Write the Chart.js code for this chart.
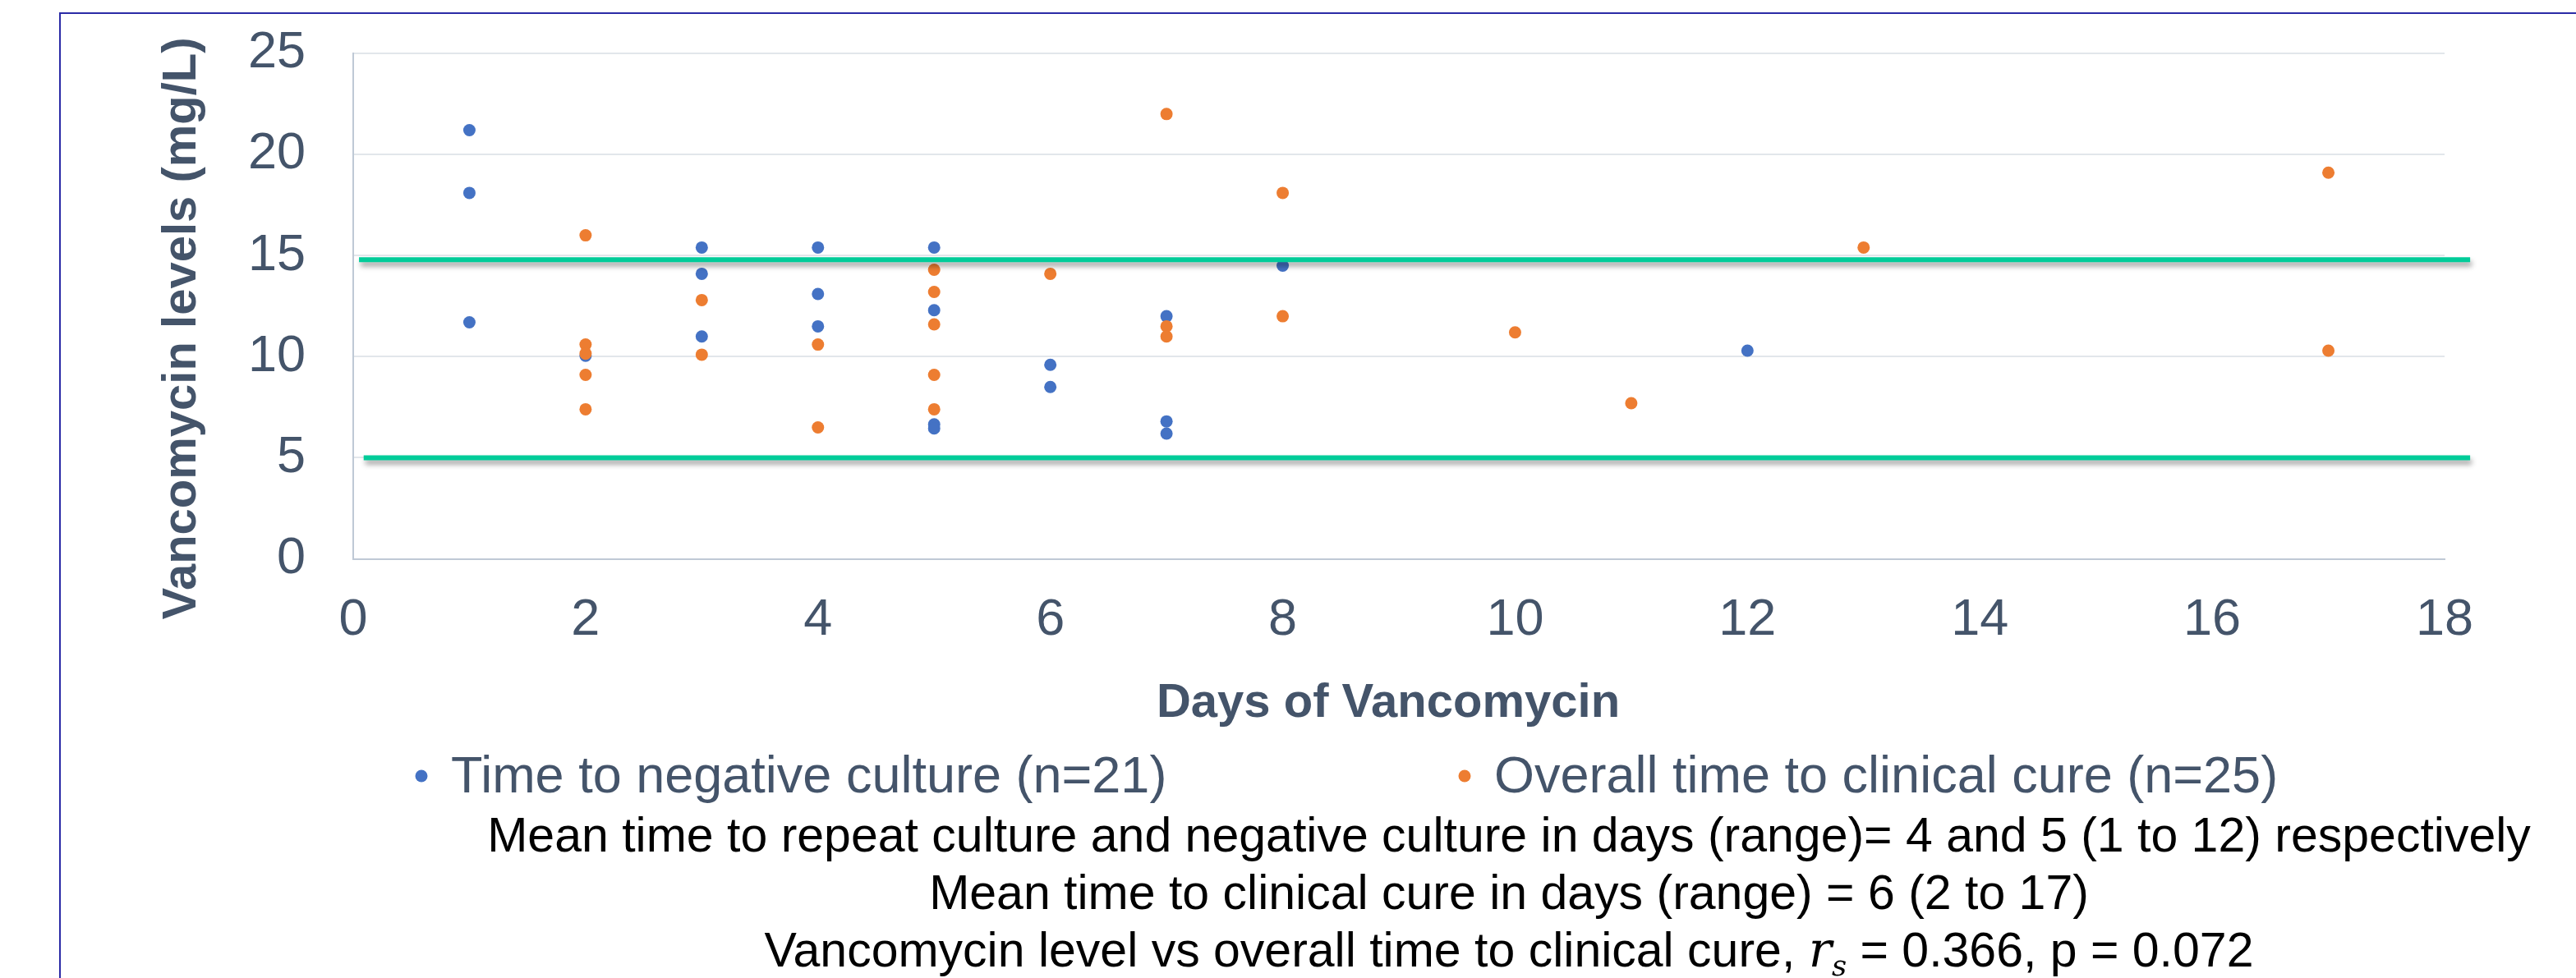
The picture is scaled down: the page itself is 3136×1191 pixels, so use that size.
<!DOCTYPE html>
<html><head><meta charset="utf-8">
<script src="https://cdn.jsdelivr.net/npm/chart.js@4.4.1/dist/chart.umd.min.js"></script>
<style>
html,body{margin:0;padding:0;width:3136px;height:1191px;overflow:hidden;background:#fff;}
#wrap{position:relative;width:3136px;height:1191px;}
canvas{position:absolute;left:0;top:0;}
#frame{position:absolute;left:72px;top:15px;width:3200px;height:1300px;border-left:2px solid #2B2BA6;border-top:2px solid #2B2BA6;pointer-events:none;}
#notes{position:absolute;left:1837px;top:982px;transform:translateX(-50%);font-family:'Liberation Sans',Arial,sans-serif;font-size:59px;line-height:70px;color:#000;text-align:center;white-space:nowrap;}
.rs{font-family:'DejaVu Serif','Liberation Serif',serif;font-style:italic;}
sub{font-size:0.6em;line-height:0;vertical-align:-0.3em;font-family:'DejaVu Serif','Liberation Serif',serif;font-style:italic;}
</style></head>
<body>
<div id="wrap">
<canvas id="c" width="3136" height="1191"></canvas>
<div id="frame"></div>
<div id="notes">
<div>Mean time to repeat culture and negative culture in days (range)= 4 and 5 (1 to 12) respectively</div>
<div>Mean time to clinical cure in days (range) = 6 (2 to 17)</div>
<div>Vancomycin level vs overall time to clinical cure, <span class="rs">r</span><sub>s</sub> = 0.366, p = 0.072</div>
</div>
</div>
<script>
// ---- data ----
const seriesNames = ['Time to negative culture (n=21)', 'Overall time to clinical cure (n=25)'];
const blueDays   = [1, 1, 1, 2, 3, 3, 3, 4, 4, 4, 5, 5, 5, 5, 6, 6, 7, 7, 7, 8, 12];
const blueLevels = [21.2, 18.1, 11.7, 10.05, 15.4, 14.1, 11.0, 15.4, 13.1, 11.5, 15.4, 12.3, 6.65, 6.45, 9.6, 8.5, 12.0, 6.8, 6.2, 14.5, 10.3];
const orangeDays   = [2, 2, 2, 2, 2, 3, 3, 4, 4, 5, 5, 5, 5, 5, 6, 7, 7, 7, 8, 8, 10, 11, 13, 17, 17];
const orangeLevels = [16.0, 10.6, 10.15, 9.1, 7.4, 12.8, 10.1, 10.6, 6.5, 14.3, 13.2, 11.6, 9.1, 7.4, 14.1, 22.0, 11.5, 11.0, 18.1, 12.0, 11.2, 7.7, 15.4, 19.1, 10.3];
const upperLineDays = [0.05, 18.22];
const upperLineLevel = 14.8;
const lowerLineDays = [0.09, 18.22];
const lowerLineLevel = 5.0;
const xTicksMax = 18, xStep = 2;
const yTicksMax = 25, yStep = 5;
const xTitle = 'Days of Vancomycin';
const yTitle = 'Vancomycin levels (mg/L)';

const toPts = (xs, ys) => xs.map((x, i) => ({x: x, y: Array.isArray(ys) ? ys[i] : ys}));

const FONT = "'Liberation Sans', Arial, sans-serif";
const AXIS_COLOR = '#44546A';

const shadowPlugin = {
  id: 'lineShadow',
  beforeDatasetDraw(chart, args) {
    const ds = chart.data.datasets[args.index];
    if (ds.shadow) {
      const ctx = chart.ctx;
      ctx.save();
      ctx.shadowColor = 'rgba(0,0,0,0.38)';
      ctx.shadowBlur = 6;
      ctx.shadowOffsetX = 2;
      ctx.shadowOffsetY = 5;
    }
  },
  afterDatasetDraw(chart, args) {
    const ds = chart.data.datasets[args.index];
    if (ds.shadow) chart.ctx.restore();
  }
};

const decorPlugin = {
  id: 'decor',
  afterDraw(chart, args, o) {
    const ctx = chart.ctx;
    ctx.save();
    ctx.fillStyle = AXIS_COLOR;
    ctx.font = 'bold 58px ' + FONT;
    ctx.textAlign = 'center';
    ctx.textBaseline = 'alphabetic';
    ctx.fillText(xTitle, o.xTitleX, o.xTitleY);
    ctx.save();
    ctx.translate(o.yTitleX, o.yTitleY);
    ctx.rotate(-Math.PI / 2);
    ctx.fillText(yTitle, 0, 0);
    ctx.restore();
    // legend
    ctx.font = '63px ' + FONT;
    ctx.textAlign = 'left';
    chart.data.datasets.forEach((ds, i) => {
      if (!ds.inLegend) return;
      const lx = o.legendX[i];
      ctx.fillStyle = ds.backgroundColor;
      ctx.beginPath();
      ctx.arc(lx, o.legendDotY, 7.5, 0, Math.PI * 2);
      ctx.fill();
      ctx.fillStyle = AXIS_COLOR;
      ctx.fillText(ds.label, lx + 36, o.legendTextY);
    });
    ctx.restore();
  }
};

new Chart(document.getElementById('c'), {
  type: 'scatter',
  data: {
    datasets: [
      { label: seriesNames[0], data: toPts(blueDays, blueLevels), backgroundColor: '#4472C4', borderColor: '#4472C4',
        pointRadius: 7.5, pointBorderWidth: 0, order: 2, inLegend: true },
      { label: seriesNames[1], data: toPts(orangeDays, orangeLevels), backgroundColor: '#ED7D31', borderColor: '#ED7D31',
        pointRadius: 7.5, pointBorderWidth: 0, order: 1, inLegend: true },
      { type: 'line', label: 'upper', data: toPts(upperLineDays, upperLineLevel), borderColor: '#00CC99', backgroundColor: '#00CC99',
        borderWidth: 6, pointRadius: 0, showLine: true, clip: false, order: 0, shadow: true, borderCapStyle: 'butt' },
      { type: 'line', label: 'lower', data: toPts(lowerLineDays, lowerLineLevel), borderColor: '#00CC99', backgroundColor: '#00CC99',
        borderWidth: 6, pointRadius: 0, showLine: true, clip: false, order: 0, shadow: true, borderCapStyle: 'butt' }
    ]
  },
  options: {
    responsive: false,
    animation: false,
    devicePixelRatio: 1,
    layout: { padding: { top: 65, left: 0, right: 160, bottom: 0 } },
    plugins: {
      legend: { display: false },
      tooltip: { enabled: false },
      decor: { xTitleX: 1690, xTitleY: 873, yTitleX: 238, yTitleY: 400, legendX: [513, 1783], legendDotY: 945, legendTextY: 965 }
    },
    scales: {
      x: {
        type: 'linear', min: 0, max: xTicksMax,
        ticks: { stepSize: xStep, color: AXIS_COLOR, font: { family: FONT, size: 63 }, padding: 37, maxRotation: 0 },
        grid: { display: false, drawTicks: false },
        border: { display: true, color: '#BFC9D6', width: 2 },
        afterFit(s) { s.height = 510.4; s.paddingLeft = 0; s.paddingRight = 0; }
      },
      y: {
        type: 'linear', min: 0, max: yTicksMax,
        ticks: { stepSize: yStep, color: AXIS_COLOR, font: { family: FONT, size: 63 }, padding: 58 },
        grid: { color: '#E2E6EB', lineWidth: 2, drawTicks: false },
        border: { display: true, color: '#BFC9D6', width: 2 },
        afterFit(s) { s.width = 430; s.paddingTop = 0; s.paddingBottom = 0; }
      }
    }
  },
  plugins: [shadowPlugin, decorPlugin]
});
</script>
</body></html>
